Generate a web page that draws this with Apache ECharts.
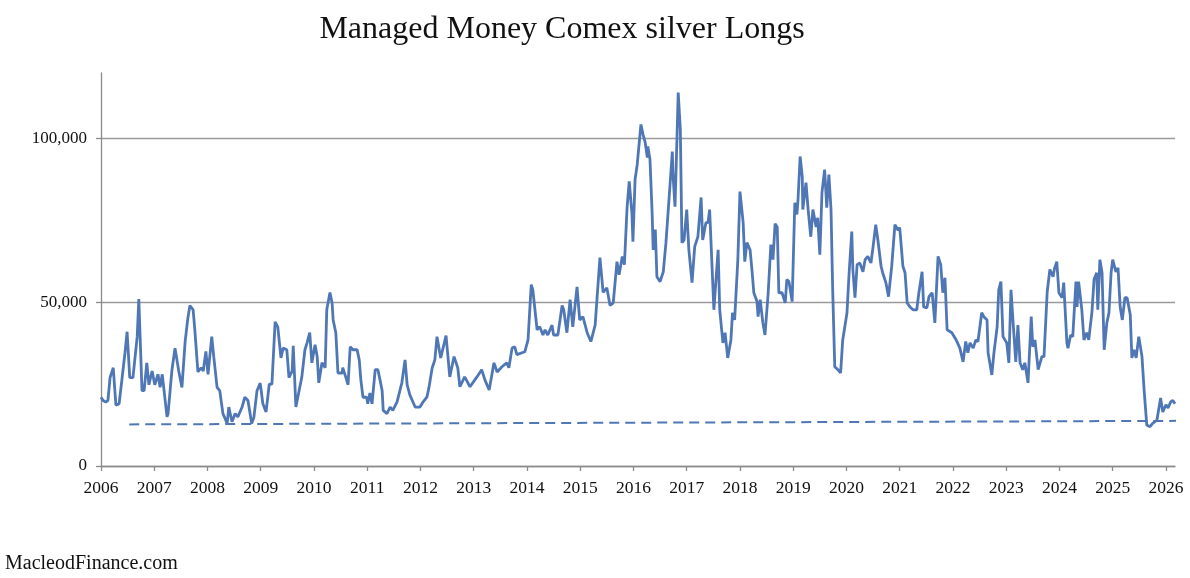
<!DOCTYPE html>
<html>
<head>
<meta charset="utf-8">
<title>Managed Money Comex silver Longs</title>
<script src="https://cdn.jsdelivr.net/npm/echarts@6/dist/echarts.min.js"></script>
<style>
  html, body { margin: 0; padding: 0; background: #fff; }
  #chart { width: 1190px; height: 578px; }
</style>
</head>
<body>
<div id="chart"></div>
<script>
// dates as decimal years (one line per year)
const weeks = [
  2006.00,2006.04,2006.09,2006.13,2006.17,2006.23,2006.28,2006.34,2006.39,2006.45,2006.49,2006.54,2006.60,2006.68,2006.71,2006.77,2006.81,2006.86,2006.90,2006.96,
  2007.01,2007.07,2007.11,2007.15,2007.24,2007.26,2007.33,2007.39,2007.46,2007.52,2007.58,2007.63,2007.67,2007.73,2007.76,2007.82,2007.88,2007.92,2007.97,
  2008.01,2008.08,2008.12,2008.18,2008.23,2008.29,2008.37,2008.40,2008.46,2008.52,2008.57,2008.65,2008.70,2008.76,2008.83,2008.87,2008.93,2008.99,
  2009.04,2009.10,2009.16,2009.21,2009.27,2009.32,2009.38,2009.42,2009.49,2009.53,2009.59,2009.61,2009.66,2009.72,2009.77,2009.83,2009.87,2009.92,2009.96,
  2010.02,2010.06,2010.09,2010.15,2010.21,2010.24,2010.30,2010.34,2010.36,2010.41,2010.45,2010.53,2010.54,2010.60,2010.64,2010.68,2010.73,2010.81,2010.85,2010.88,2010.92,2010.99,
  2011.01,2011.05,2011.09,2011.15,2011.20,2011.24,2011.28,2011.30,2011.37,2011.43,2011.48,2011.56,2011.59,2011.65,2011.71,2011.75,2011.80,2011.90,2011.99,
  2012.05,2012.12,2012.16,2012.22,2012.27,2012.31,2012.38,2012.48,2012.55,2012.63,2012.70,2012.74,2012.83,2012.93,
  2013.06,2013.15,2013.21,2013.29,2013.38,2013.44,2013.53,2013.62,2013.66,2013.72,2013.77,2013.81,2013.96,
  2014.02,2014.08,2014.11,2014.19,2014.24,2014.30,2014.34,2014.39,2014.47,2014.50,2014.58,2014.66,2014.69,2014.75,2014.81,2014.86,2014.94,2014.99,
  2015.05,2015.13,2015.20,2015.28,2015.37,2015.43,2015.50,2015.56,2015.62,2015.69,2015.73,2015.79,2015.83,2015.88,2015.92,2015.97,2015.99,
  2016.03,2016.07,2016.14,2016.18,2016.22,2016.26,2016.27,2016.31,2016.35,2016.37,2016.41,2016.44,2016.50,2016.56,2016.61,2016.65,2016.73,2016.74,2016.78,2016.82,2016.84,2016.88,2016.91,2016.95,
  2017.00,2017.04,2017.10,2017.15,2017.21,2017.27,2017.30,2017.36,2017.40,2017.43,2017.47,2017.51,2017.55,2017.59,2017.62,2017.68,2017.72,2017.77,2017.83,2017.86,2017.90,2017.96,
  2018.00,2018.06,2018.09,2018.13,2018.19,2018.23,2018.26,2018.32,2018.34,2018.38,2018.43,2018.47,2018.53,2018.58,2018.62,2018.66,2018.70,2018.73,2018.79,2018.85,2018.88,2018.92,2018.98,
  2019.03,2019.07,2019.09,2019.13,2019.17,2019.18,2019.24,2019.28,2019.33,2019.37,2019.43,2019.46,2019.50,2019.54,2019.59,2019.63,2019.67,2019.71,2019.74,2019.78,2019.84,2019.89,2019.93,
  2020.01,2020.05,2020.10,2020.12,2020.16,2020.20,2020.25,2020.31,2020.35,2020.40,2020.46,2020.50,2020.55,2020.59,2020.65,2020.68,2020.74,2020.79,2020.85,2020.91,2020.97,
  2021.00,2021.06,2021.10,2021.14,2021.19,2021.25,2021.32,2021.36,2021.42,2021.45,2021.51,2021.55,2021.61,2021.66,2021.72,2021.77,2021.81,2021.85,2021.89,2021.98,
  2022.06,2022.13,2022.19,2022.24,2022.28,2022.32,2022.38,2022.43,2022.47,2022.54,2022.58,2022.64,2022.66,2022.73,2022.77,2022.83,2022.86,2022.90,2022.94,
  2023.01,2023.05,2023.09,2023.13,2023.18,2023.22,2023.26,2023.31,2023.35,2023.41,2023.47,2023.50,2023.54,2023.60,2023.67,2023.71,2023.77,2023.82,2023.88,2023.91,2023.95,2023.99,
  2024.05,2024.08,2024.14,2024.16,2024.21,2024.25,2024.31,2024.33,2024.36,2024.42,2024.46,2024.51,2024.55,2024.61,2024.65,2024.70,2024.72,2024.76,2024.80,2024.84,2024.89,2024.93,2024.97,
  2025.00,2025.06,2025.10,2025.14,2025.18,2025.23,2025.27,2025.33,2025.36,2025.40,2025.44,2025.49,2025.55,2025.59,2025.64,2025.70,2025.75,2025.83,2025.86,2025.90,2025.94,
  2026.00,2026.04,2026.09,2026.13,2026.17
];

// managed money longs, thousands of contracts
const longs = [
  21,20,19.5,20,27,30,18.6,19,26,34.5,41,27,27,39.5,51,23,23,31.5,24.8,29,
  24.8,28,24,28,15,16,29,36,29,24,38,45,49,47.7,42,28.7,30,29,35,
  28,39.5,33,24,23,16,13,18,13.5,16,15,18,21,20,13,14.7,23,25.3,
  19,16.5,25,25,44,42.5,33,36,35.5,27,29,36.7,18,23,27,35.5,37.6,40.7,31.5,
  37,33.4,25.4,31.5,30,47.7,53,49.8,44.6,40.7,28.4,28.4,30,27,24.8,36.4,35.5,35.5,32.4,26.3,21,21,
  19,22.3,19,29.4,29.4,26.3,23,17,16,18,17,19.6,20,25.4,32.4,24.8,21.7,18,18,
  19.6,21,24,30,32.4,39.5,33,39.8,27.2,33.4,30,24.2,27.2,24.2,
  27.2,29.4,26.3,23.2,31.5,28.7,30.3,31.5,30,36,36.4,34,34.9,
  38.5,55.4,53.8,41.6,42.5,40,41.6,40,43,40,40,49,47.7,40.7,50.8,42.5,54.7,44.6,
  45.6,40.7,38,43,63.6,53,54.4,49,49.8,62.4,58.4,64,61.5,79,86.9,77.4,68.5,
  87.5,92,104.3,101.2,98.8,94.2,97.6,93.6,77.4,66,72.2,57.8,56.3,59.3,68.2,77.4,96,89.6,79.2,101.8,114,102.8,68.2,69,
  78.3,66,56,67,70,82,69,74.3,74.3,78.3,63,47.7,56.9,66,47.7,37.6,40.7,33,38.5,46.8,44.6,63,
  83.8,74.3,62.4,68.2,66,59,52.9,50.2,45.6,50.8,43.7,40,52.9,67.6,63,74,73,52.9,52.9,49.8,56.9,56.3,50.2,
  80.4,76.8,81.3,94.5,88.4,78.3,86.5,78.3,70,78.3,73,75.8,64.5,83.5,90.5,78.9,89,78.3,54.7,30.3,29.4,28.4,38.5,
  46.8,59,71.6,60,51.4,61.5,62,59.3,63,64,62,67,73.7,69,61,59,56,51.7,61,73.7,72,
  72.8,61,59,49.8,48.6,47.7,47.7,52.9,59.3,48.6,48.3,51.7,52.9,43.7,64,61.5,52.9,57.5,41.6,40.7,
  38.5,36,31.8,38,34.6,37.6,36,38.5,38,46.8,45.6,44.6,34.6,27.8,34.6,42.5,53.8,56.3,39.5,
  37.6,31.5,53.8,43.7,31.8,43,31.5,29.4,31.5,25.4,45.6,36.4,38.5,29.4,33.4,33.4,53.2,60,57.8,60.5,62.4,52.9,
  51.4,56,37.6,36,40,39.5,56.3,48.6,56.3,47.7,38.5,40.7,38.5,47,57,59,47.7,63,59,35.5,43.7,46.8,59,
  63,59.3,60.5,48.6,44.6,51.4,51.4,46.2,33,35.5,33,39.5,33.4,23.2,12.5,12,13,14,13.5,20.8,16.5,
  18.7,17.7,19.6,20,19
];

// dashed support line (two ends)
const trendX = [2006.53, 2026.45];
const trendY = [12700, 13800];

const yearTicks = [];
for (let y = 2006; y <= 2026; y++) yearTicks.push(y);
const valueTicks = [0, 50000, 100000];

const lineData = weeks.map((w, i) => [w, longs[i] * 1000]);
const trendData = trendX.map((x, i) => [x, trendY[i]]);

const serif = '"Liberation Serif", "DejaVu Serif", serif';
const myChart = echarts.init(document.getElementById('chart'));
myChart.setOption({
  animation: false,
  backgroundColor: '#fff',
  title: {
    text: 'Managed Money Comex silver Longs',
    left: 557,
    top: 9,
    textAlign: 'center',
    textStyle: { fontFamily: serif, fontSize: 32, fontWeight: 'normal', color: '#111' }
  },
  graphic: [{
    type: 'text',
    left: 5,
    top: 554,
    style: { text: 'MacleodFinance.com', font: '20px ' + serif, fill: '#111' }
  }],
  grid: { left: 101, right: 15, top: 73, bottom: 112, containLabel: false },
  xAxis: {
    type: 'value',
    min: 2006,
    max: 2026.17,
    splitLine: { show: false },
    axisLine: { lineStyle: { color: '#8a8a8a', width: 1.3 } },
    axisTick: { customValues: yearTicks, length: 5, lineStyle: { color: '#8a8a8a', width: 1.3 } },
    axisLabel: {
      customValues: yearTicks,
      formatter: v => String(v),
      margin: 13,
      fontFamily: serif, fontSize: 17.5, color: '#111'
    }
  },
  yAxis: {
    type: 'value',
    min: 0,
    max: 120000,
    interval: 50000,
    axisLine: { show: true, lineStyle: { color: '#8a8a8a', width: 1.3 } },
    axisTick: { show: true, customValues: valueTicks, length: 5, lineStyle: { color: '#8a8a8a', width: 1.3 } },
    splitLine: { lineStyle: { color: ['#9a9a9a', '#9a9a9a', '#9a9a9a', 'rgba(0,0,0,0)'], width: 1.3 } },
    axisLabel: {
      customValues: valueTicks,
      formatter: v => v.toLocaleString('en-US'),
      margin: 14,
      fontFamily: serif, fontSize: 17, color: '#111'
    }
  },
  series: [{
    type: 'line',
    data: lineData,
    showSymbol: false,
    lineStyle: { color: '#4f77b5', width: 2.8 },
    z: 3
  }, {
    type: 'line',
    data: trendData,
    showSymbol: false,
    clip: false,
    lineStyle: { color: '#4f77b5', width: 2, type: [10, 6] },
    z: 2
  }]
});
</script>
</body>
</html>
